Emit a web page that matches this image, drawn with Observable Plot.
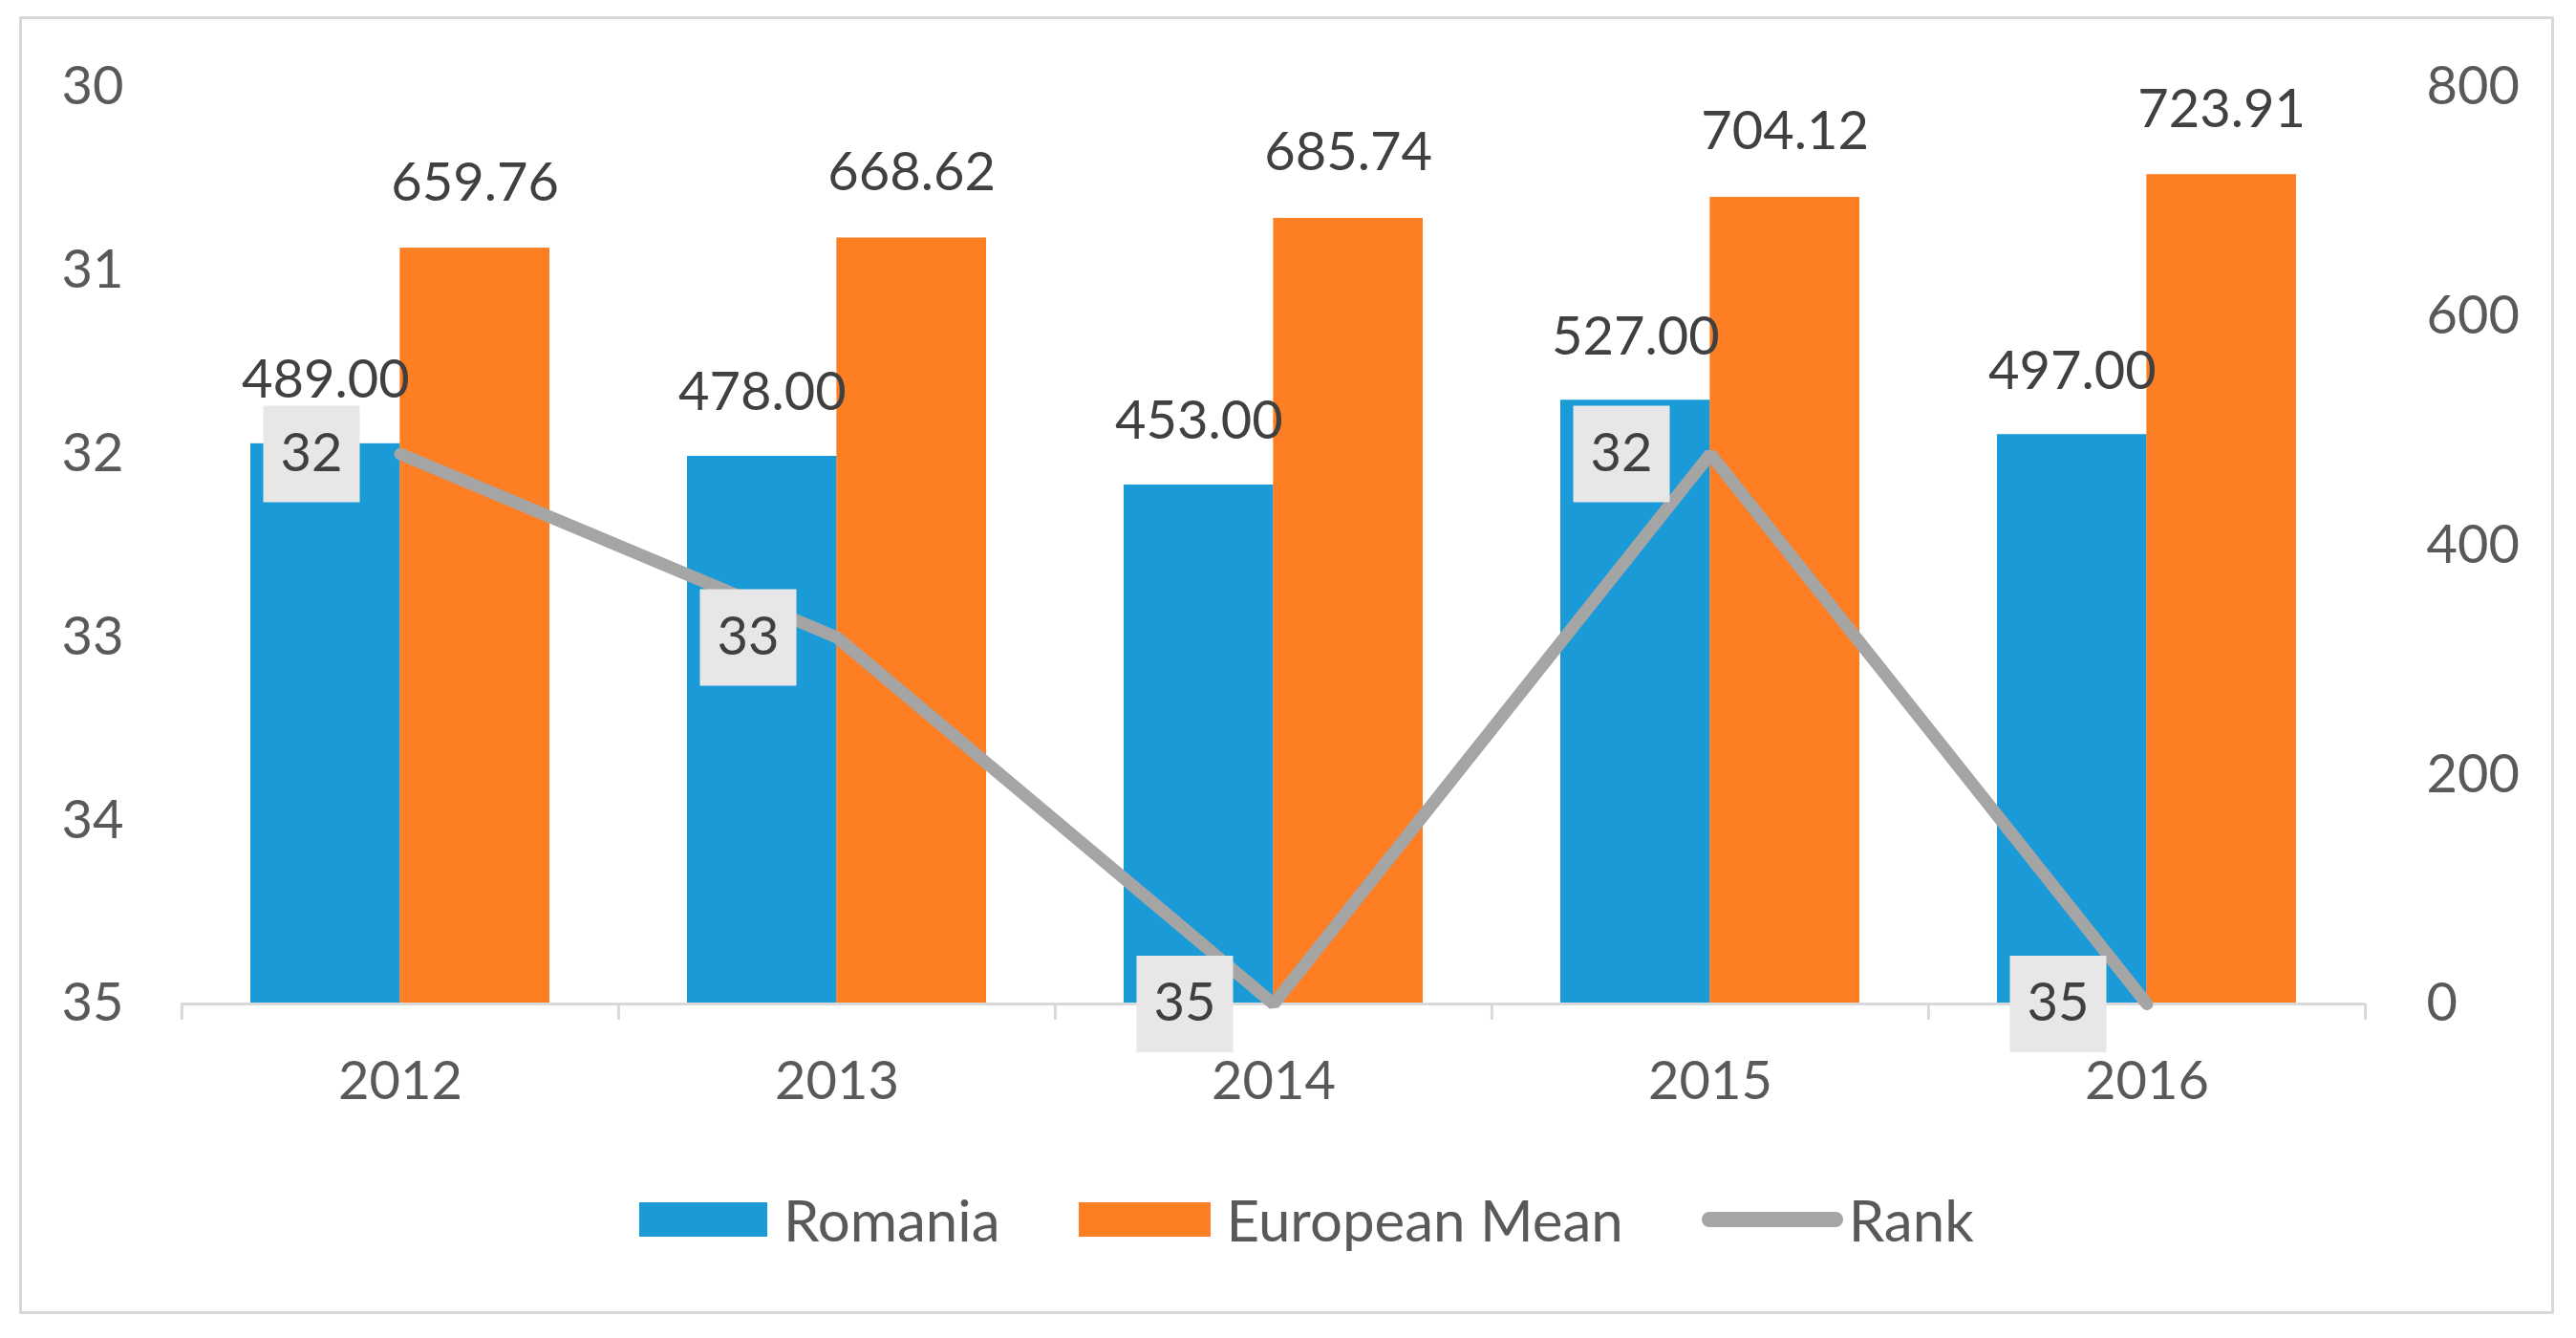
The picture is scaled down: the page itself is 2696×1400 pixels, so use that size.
<!DOCTYPE html>
<html><head><meta charset="utf-8">
<script src="https://cdn.jsdelivr.net/npm/d3@7"></script>
<script src="https://cdn.jsdelivr.net/npm/@observablehq/plot@0.6"></script>
<style>
body{margin:0;background:#fff;width:2696px;height:1400px;position:relative;overflow:hidden;font-family:Lato,sans-serif;}
#frame{position:absolute;left:20px;top:17px;width:2653px;height:1358px;border:3px solid #d9d9d9;box-sizing:border-box;pointer-events:none;}
#chart{position:absolute;left:0;top:0;}
#legend{position:absolute;top:1276px;left:669px;transform:translateY(-50%);display:flex;align-items:center;font-size:60px;color:#595959;white-space:nowrap;}
#legend .sw{display:inline-block;height:36px;margin-right:17px;}
#legend .ln{display:inline-block;height:16px;border-radius:8px;margin-right:6px;}
#legend .item{display:flex;align-items:center;margin-right:82px;}
</style></head><body>
<div id="chart"></div><div id="legend"></div><div id="frame"></div>
<script>
const years = ["2012", "2013", "2014", "2015", "2016"];
const romania = [489.00, 478.00, 453.00, 527.00, 497.00];
const europeanMean = [659.76, 668.62, 685.74, 704.12, 723.91];
const rank = [32, 33, 35, 32, 35];
const rankTicks = [30, 31, 32, 33, 34, 35];
const valueTicks = [0, 200, 400, 600, 800];
const seriesNames = ["Romania", "European Mean", "Rank"];
const colors = ["#1a9bd7", "#fd7e23", "#a5a5a5"];

const data = years.map((y, i) => ({year: y, romania: romania[i], mean: europeanMean[i], rank: rank[i]}));

const W = 2696, H = 1200, mL = 189, mR = 221, mT = 91, mB = 150;
const padIn = 0.316;
const step = (W - mL - mR) / years.length;
const bw = step * (1 - padIn);
const rMin = d3.min(rankTicks), rMax = d3.max(rankTicks), vMax = d3.max(valueTicks);
const toY = r => (rMax - r) / (rMax - rMin) * vMax;
const fmt = d3.format(".2f");
const font = 56;

const chart = Plot.plot({
  width: W, height: H,
  marginLeft: mL, marginRight: mR, marginTop: mT, marginBottom: mB,
  style: {fontFamily: "Lato, sans-serif", fontSize: font + "px", color: "#595959", background: "transparent"},
  x: {type: "band", domain: years, paddingInner: padIn, paddingOuter: padIn / 2, label: null},
  y: {domain: [0, vMax], label: null},
  marks: [
    Plot.barY(data, {x: "year", y: "romania", fill: colors[0], insetRight: bw / 2}),
    Plot.barY(data, {x: "year", y: "mean", fill: colors[1], insetLeft: bw / 2}),
    Plot.ruleY([0], {stroke: "#d9d9d9", strokeWidth: 3}),
    Plot.ruleX(years, {x: d => d, stroke: "#d9d9d9", strokeWidth: 3, dx: -step / 2, insetTop: H - mT - mB, insetBottom: -17}),
    Plot.ruleX(years.slice(-1), {x: d => d, stroke: "#d9d9d9", strokeWidth: 3, dx: step / 2, insetTop: H - mT - mB, insetBottom: -17}),
    Plot.axisX({tickSize: 0, tickPadding: 60, fontSize: font, label: null, fill: "#595959"}),
    Plot.axisY({anchor: "left", ticks: rankTicks.map(toY), tickFormat: v => String(Math.round(rMax - v / vMax * (rMax - rMin))), tickSize: 0, tickPadding: 60, fontSize: font, label: null, fill: "#595959"}),
    Plot.axisY({anchor: "right", ticks: valueTicks, tickSize: 0, tickPadding: 64, fontSize: font, label: null, fill: "#595959", textAnchor: "start"}),
    Plot.text(data, {x: "year", y: "romania", text: d => fmt(d.romania), dx: -bw / 4, dy: -66, fill: "#404040", fontSize: font, lineAnchor: "middle"}),
    Plot.text(data, {x: "year", y: "mean", text: d => fmt(d.mean), dx: bw / 4, dy: -68, fill: "#404040", fontSize: font, lineAnchor: "middle"}),
    Plot.line(data, {x: "year", y: d => toY(d.rank), stroke: colors[2], strokeWidth: 13, strokeLinejoin: "miter"}),
    Plot.dot(data, {x: "year", y: d => toY(d.rank), symbol: "square", r: 57, fill: "#e7e7e7", stroke: "none", dx: -93}),
    Plot.text(data, {x: "year", y: d => toY(d.rank), text: d => String(d.rank), dx: -93, fill: "#404040", fontSize: font, lineAnchor: "middle"})
  ]
});
document.getElementById("chart").appendChild(chart);

const legend = document.getElementById("legend");
const swW = [134, 138, 148];
seriesNames.forEach((name, i) => {
  const item = document.createElement("div");
  item.className = "item";
  if (i === seriesNames.length - 1) item.style.marginRight = "0";
  const sw = document.createElement("span");
  sw.className = i < 2 ? "sw" : "ln";
  sw.style.width = swW[i] + "px";
  sw.style.background = colors[i];
  const t = document.createElement("span");
  t.textContent = name;
  item.appendChild(sw); item.appendChild(t);
  legend.appendChild(item);
});
</script>
</body></html>
